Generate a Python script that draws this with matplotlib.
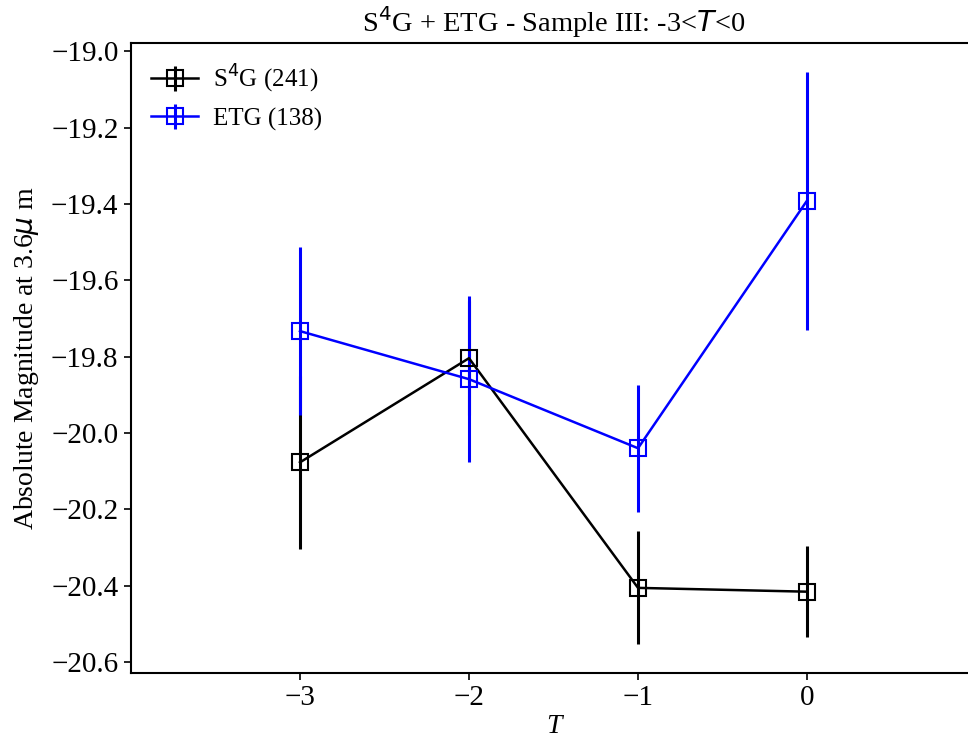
import matplotlib
matplotlib.use("Agg")
import matplotlib.pyplot as plt

plt.rcParams['font.family'] = ['Liberation Serif', 'DejaVu Sans']
plt.rcParams['mathtext.fontset'] = 'dejavusans'

T_vals = [-3, -2, -1, 0]
s4g_mag = [-20.077, -19.804, -20.406, -20.416]
s4g_err = [0.226, 0.15, 0.148, 0.12]
etg_mag = [-19.733, -19.859, -20.040, -19.391]
etg_err = [0.221, 0.217, 0.167, 0.338]
s4g_label = r'S$^4$G (241)'
etg_label = 'ETG (138)'

fig = plt.figure(figsize=(9.68, 7.47), dpi=100)
ax = fig.add_axes([0.1353, 0.0991, 0.873, 0.8433])

ax.errorbar(T_vals, s4g_mag, yerr=s4g_err, color='black', marker='s', ms=11.5,
            mfc='none', mew=1.5, lw=1.8, elinewidth=2.2, label=s4g_label)
ax.errorbar(T_vals, etg_mag, yerr=etg_err, color='blue', marker='s', ms=11.5,
            mfc='none', mew=1.5, lw=1.8, elinewidth=2.2, label=etg_label)

ax.set_xlim(-4, 1)
ax.set_xticks([-3, -2, -1, 0])
ax.set_yticks([-19.0, -19.2, -19.4, -19.6, -19.8, -20.0, -20.2, -20.4, -20.6])
ax.tick_params(labelsize=21, width=1.2, length=5, pad=4)
for s in ax.spines.values():
    s.set_linewidth(1.5)

ax.set_xlabel('T', fontsize=20, fontstyle='italic', labelpad=2)
ax.set_ylabel(r'Absolute Magnitude at 3.6$\mu$ m', fontsize=20, labelpad=7)
ax.set_title(r'S$^4$G + ETG - Sample III: -3<$T$<0', fontsize=20.5, pad=8)

ax.legend(loc='upper left', frameon=False, fontsize=18, handlelength=1.9,
          handletextpad=0.6, borderaxespad=0.4)

fig.savefig('out.png', dpi=100)
